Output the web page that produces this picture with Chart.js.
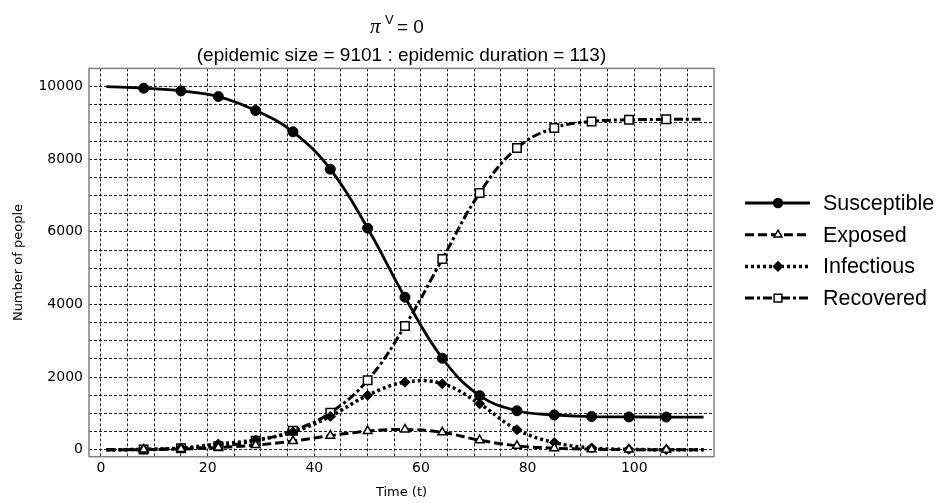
<!DOCTYPE html>
<html>
<head>
<meta charset="utf-8">
<script src="https://cdn.jsdelivr.net/npm/chart.js@4/dist/chart.umd.min.js"></script>
<style>
  html, body { margin: 0; padding: 0; background: #fff; }
  #area { width: 935px; height: 503px; }
</style>
</head>
<body>
<div id="area"><canvas id="seirChart"></canvas></div>
<script>
// valores (marcadores a cada 7 dias)
const tempos = [1, 8, 15, 22, 29, 36, 43, 50, 57, 64, 71, 78, 85, 92, 99, 106, 113];
const suscetiveis = [10000, 9955, 9880, 9725, 9340, 8755, 7725, 6100, 4200, 2520, 1490, 1075, 960, 915, 905, 901, 899];
const expostos = [0, 5, 20, 60, 130, 240, 390, 515, 560, 480, 265, 110, 45, 15, 5, 2, 1];
const infecciosos = [1, 12, 50, 160, 270, 490, 920, 1500, 1860, 1820, 1265, 555, 200, 50, 12, 3, 1];
const recuperados = [0, 10, 40, 95, 250, 525, 1020, 1915, 3410, 5250, 7070, 8310, 8860, 9040, 9085, 9097, 9101];

const nomesSeries = ['Susceptible', 'Exposed', 'Infectious', 'Recovered'];
const rotulosX = [0, 20, 40, 60, 80, 100];
const rotulosY = [0, 2000, 4000, 6000, 8000, 10000];

function pontos(valores) {
    return tempos.map((t, i) => ({ x: t, y: valores[i] }));
}

function raios(r) {
    // sem marcador no primeiro e no ultimo ponto
    return tempos.map((t, i) => (i === 0 || i === tempos.length - 1) ? 0 : r);
}

function desenharMarcador(ctx, estilo, x, y, r, fundo) {
    ctx.beginPath();
    if (estilo === 'circle') {
        ctx.arc(x, y, r, 0, Math.PI * 2);
    } else if (estilo === 'triangle') {
        ctx.moveTo(x, y - r);
        ctx.lineTo(x + r * 0.866, y + r * 0.5);
        ctx.lineTo(x - r * 0.866, y + r * 0.5);
        ctx.closePath();
    } else if (estilo === 'rectRot') {
        ctx.moveTo(x, y - r);
        ctx.lineTo(x + r, y);
        ctx.lineTo(x, y + r);
        ctx.lineTo(x - r, y);
        ctx.closePath();
    } else {
        const s = r * Math.SQRT1_2;
        ctx.rect(x - s, y - s, 2 * s, 2 * s);
    }
    ctx.fillStyle = fundo;
    ctx.fill();
    ctx.lineWidth = 1.5;
    ctx.strokeStyle = '#000';
    ctx.stroke();
}

const molduraPlugin = {
    id: 'moldura',
    beforeDatasetsDraw(chart) {
        const a = chart.chartArea;
        const ctx = chart.ctx;
        ctx.save();
        ctx.strokeStyle = '#808080';
        ctx.lineWidth = 1.5;
        ctx.strokeRect(a.left, a.top, a.right - a.left, a.bottom - a.top);
        ctx.restore();
    }
};

const tituloPlugin = {
    id: 'tituloPi',
    afterDraw(chart) {
        const ctx = chart.ctx;
        ctx.save();
        ctx.fillStyle = '#000';
        ctx.textBaseline = 'alphabetic';
        ctx.font = 'italic 21px "Liberation Serif", "DejaVu Serif", serif';
        ctx.fillText('\u03C0', 370, 33);
        ctx.font = '13px "Liberation Sans", Arial, sans-serif';
        ctx.fillText('V', 385, 24);
        ctx.font = '19px "Liberation Sans", Arial, sans-serif';
        ctx.fillText('= 0', 397, 33);
        ctx.restore();
    }
};

const legendaPlugin = {
    id: 'legenda',
    afterDraw(chart) {
        const ctx = chart.ctx;
        chart.data.datasets.forEach((ds, i) => {
            const y = 203 + i * 31.7;
            ctx.save();
            ctx.strokeStyle = '#000';
            ctx.lineWidth = ds.borderWidth;
            ctx.setLineDash(ds.borderDash || []);
            ctx.beginPath();
            ctx.moveTo(745, y);
            ctx.lineTo(810, y);
            ctx.stroke();
            ctx.setLineDash([]);
            desenharMarcador(ctx, ds.pointStyle, 778, y, ds.legendaRaio, ds.pointBackgroundColor);
            ctx.fillStyle = '#000';
            ctx.font = '21.5px "Liberation Sans", Arial, sans-serif';
            ctx.textBaseline = 'middle';
            ctx.fillText(ds.label, 823, y + 1);
            ctx.restore();
        });
    }
};

function construirGrafico() {
    const ctx = document.getElementById('seirChart').getContext('2d');

    new Chart(ctx, {
        type: 'line',
        data: {
            datasets: [{
                label: nomesSeries[0],
                data: pontos(suscetiveis),
                borderColor: '#000',
                borderWidth: 2.8,
                pointStyle: 'circle',
                pointRadius: raios(5),
                pointBackgroundColor: '#000',
                pointBorderColor: '#000',
                pointBorderWidth: 1,
                legendaRaio: 4.5
            }, {
                label: nomesSeries[1],
                data: pontos(expostos),
                borderColor: '#000',
                borderWidth: 3,
                borderDash: [9, 4],
                pointStyle: 'triangle',
                pointRadius: raios(5),
                pointBackgroundColor: '#fff',
                pointBorderColor: '#000',
                pointBorderWidth: 1.5,
                legendaRaio: 4.5
            }, {
                label: nomesSeries[2],
                data: pontos(infecciosos),
                borderColor: '#000',
                borderWidth: 3.5,
                borderDash: [3, 3],
                pointStyle: 'rectRot',
                pointRadius: raios(5),
                pointBackgroundColor: '#000',
                pointBorderColor: '#000',
                pointBorderWidth: 1,
                legendaRaio: 4.5
            }, {
                label: nomesSeries[3],
                data: pontos(recuperados),
                borderColor: '#000',
                borderWidth: 3,
                borderDash: [9, 3, 3, 3],
                pointStyle: 'rect',
                pointRadius: raios(6),
                pointBackgroundColor: '#fff',
                pointBorderColor: '#000',
                pointBorderWidth: 1.5,
                legendaRaio: 5.5
            }]
        },
        options: {
            responsive: true,
            maintainAspectRatio: false,
            animation: false,
            tension: 0.4,
            layout: {
                padding: { left: 0, right: 221, top: 0, bottom: 0 }
            },
            plugins: {
                legend: { display: false },
                tooltip: { enabled: false },
                title: {
                    display: true,
                    text: '(epidemic size = 9101 : epidemic duration = 113)',
                    color: '#000',
                    fullSize: false,
                    font: { family: '"Liberation Sans", Arial, sans-serif', size: 19, weight: 'normal' },
                    padding: { top: 44.6, bottom: 1 }
                }
            },
            scales: {
                x: {
                    type: 'linear',
                    min: -2.25,
                    max: 114.95,
                    afterBuildTicks: axis => {
                        const t = [];
                        for (let v = 0; v <= 110; v += 5) t.push({ value: v });
                        axis.ticks = t;
                    },
                    afterFit: axis => { axis.height = 46.3; },
                    ticks: {
                        autoSkip: false,
                        maxRotation: 0,
                        padding: 3,
                        color: '#000',
                        font: { family: '"DejaVu Sans", sans-serif', size: 14 },
                        callback: v => rotulosX.includes(v) ? String(v) : ''
                    },
                    grid: {
                        color: 'rgba(0,0,0,0.85)',
                        lineWidth: 1,
                        drawTicks: false
                    },
                    border: { display: false, dash: [3, 2] },
                    title: {
                        display: true,
                        text: 'Time (t)',
                        color: '#000',
                        font: { family: '"DejaVu Sans", sans-serif', size: 13 },
                        padding: { top: 0, bottom: 3 }
                    }
                },
                y: {
                    min: -190,
                    max: 10500,
                    afterBuildTicks: axis => {
                        const t = [];
                        for (let v = 0; v <= 10500; v += 500) t.push({ value: v });
                        axis.ticks = t;
                    },
                    afterFit: axis => { axis.width = 89; },
                    ticks: {
                        autoSkip: false,
                        padding: 6,
                        color: '#000',
                        font: { family: '"DejaVu Sans", sans-serif', size: 14 },
                        callback: v => rotulosY.includes(v) ? String(v) : ''
                    },
                    grid: {
                        color: 'rgba(0,0,0,0.85)',
                        lineWidth: 1,
                        drawTicks: false
                    },
                    border: { display: false, dash: [3, 2] },
                    title: {
                        display: true,
                        text: 'Number of people',
                        color: '#000',
                        font: { family: '"DejaVu Sans", sans-serif', size: 13 },
                        padding: { top: 11, bottom: 0 }
                    }
                }
            }
        },
        plugins: [molduraPlugin, tituloPlugin, legendaPlugin]
    });
}

construirGrafico();
</script>
</body>
</html>
